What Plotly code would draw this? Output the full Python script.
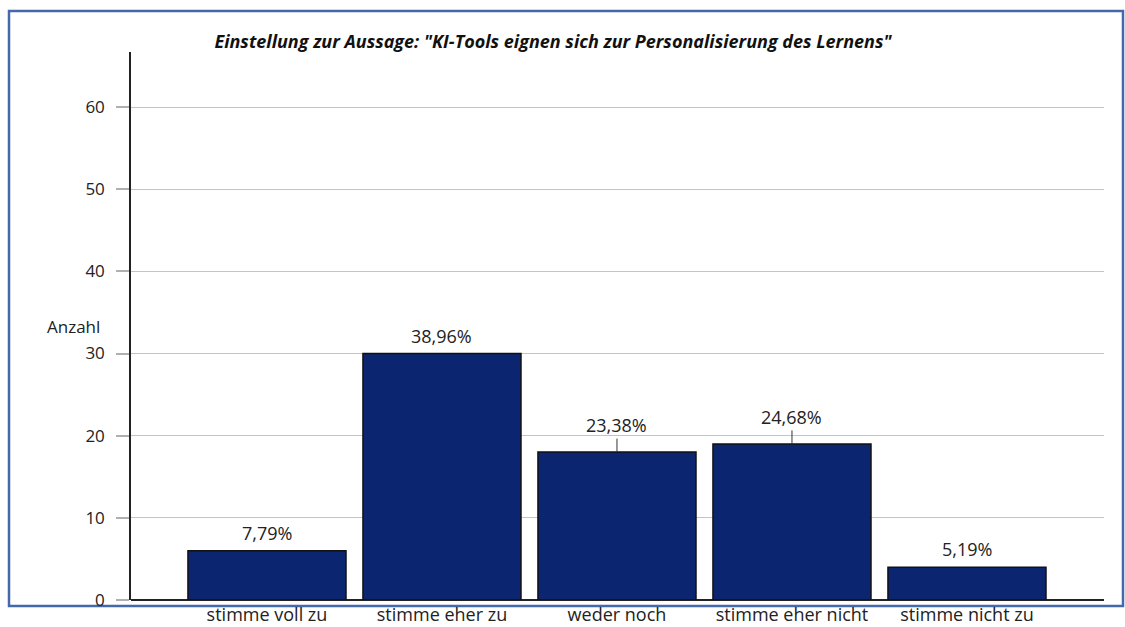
import plotly.graph_objects as go
import math

categories = ["stimme voll zu", "stimme eher zu", "weder noch", "stimme eher nicht", "stimme nicht zu"]
counts = [6, 30, 18, 19, 4]
y_ticks = [0, 10, 20, 30, 40, 50, 60]
title_text = 'Einstellung zur Aussage: "KI-Tools eignen sich zur Personalisierung des Lernens"'
y_label = "Anzahl"

total = sum(counts)
pct_labels = [f"{c / total * 100:.2f}".replace(".", ",") + "%" for c in counts]

FONT = "Open Sans"
TXT = "#222222"
W, H = 1125, 627
L, R, T, B = 131, 21, 52, 27
pw, ph = W - L - R, H - T - B

fig = go.Figure()
fig.add_trace(go.Bar(
    x=list(range(len(categories))), y=counts,
    marker=dict(color="#0b2571", line=dict(color="#111111", width=1.5)),
    width=0.903, hoverinfo="skip",
))

# data labels, with a short leader line when the label would sit on a gridline
for i, (c, lab) in enumerate(zip(counts, pct_labels)):
    gap = math.ceil(c / 10) * 10 - c
    near = 0 < gap <= 2
    fig.add_annotation(
        x=i, y=c, xref="x", yref="y", text=lab,
        showarrow=True, arrowhead=0, arrowwidth=1,
        arrowcolor="#333333" if near else "rgba(0,0,0,0)",
        ax=0, ay=-27 if near else -18, standoff=0,
        font=dict(family=FONT, size=18, color=TXT),
    )

fig.add_annotation(x=(45 - L) / pw, y=0.5, xref="paper", yref="paper", text=y_label,
                   showarrow=False, font=dict(family=FONT, size=17, color=TXT))

# frame
fig.add_shape(type="rect", xref="paper", yref="paper",
              x0=(9 - L) / pw, x1=(1123 - L) / pw,
              y0=(H - B - 606) / ph, y1=(H - B - 11) / ph,
              line=dict(color="#4468a9", width=2.5), fillcolor="rgba(0,0,0,0)", layer="below")

fig.update_layout(
    width=W, height=H,
    margin=dict(l=L, r=R, t=T, b=B, pad=0, autoexpand=False),
    paper_bgcolor="white", plot_bgcolor="white",
    showlegend=False,
    title=dict(text=f"<b><i>{title_text}</i></b>", x=553 / W, xanchor="center",
               y=1 - 42 / H, yanchor="middle", yref="container",
               font=dict(family=FONT, size=18, color="#111111")),
    xaxis=dict(
        range=[-0.777, 4.783], tickmode="array", tickvals=list(range(len(categories))),
        ticktext=categories, showgrid=False, zeroline=False, showline=False,
        ticks="", tickfont=dict(family=FONT, size=18, color=TXT), fixedrange=True,
        automargin=False, ticklabelstandoff=2,
    ),
    yaxis=dict(
        range=[0, 66.7], tickmode="array", tickvals=y_ticks,
        showgrid=True, gridcolor="#c4c4c4", gridwidth=1,
        zeroline=True, zerolinecolor="#222222", zerolinewidth=1.5,
        showline=True, linecolor="#222222", linewidth=1.5,
        ticks="outside", ticklen=13, tickcolor="#b0b0b0", tickwidth=1.5,
        tickfont=dict(family=FONT, size=17, color=TXT), ticklabelstandoff=8,
        fixedrange=True, automargin=False,
    ),
    bargap=0.097,
)

fig.write_html("out.html", config={"displayModeBar": False},
               post_script="document.body.style.margin='0';")
